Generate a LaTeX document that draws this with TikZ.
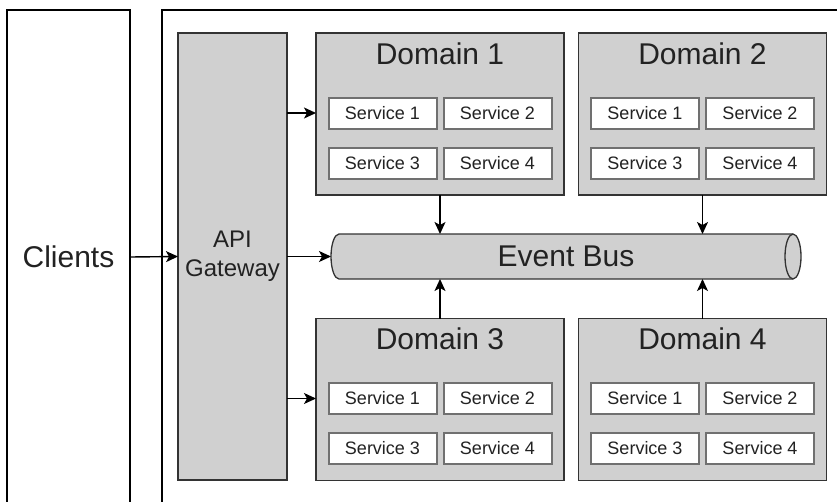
\documentclass[tikz,border=0pt]{standalone}
\usepackage{fontspec}
\setmainfont{Liberation Sans}
\usetikzlibrary{arrows.meta,calc}
\definecolor{boxfill}{RGB}{208,208,208}
\definecolor{inkdark}{RGB}{51,51,51}
\definecolor{svcline}{RGB}{112,112,112}
\definecolor{txt}{RGB}{34,34,34}

% one domain: grey block, title and a 2x2 grid of services
\newcommand\domainblock[4]{%
  \node[block, minimum width=248pt, minimum height=162pt, anchor=north] (#1) at (#2,#3) {};
  \node[big, anchor=base] (#1t) at ($(#1.north)+(0,31)$) {#4};
  \node[svc] (#1a) at ($(#1.north)+(-57.5,80)$) {Service 1};
  \node[svc] (#1b) at ($(#1.north)+(57.5,80)$) {Service 2};
  \node[svc] (#1c) at ($(#1.north)+(-57.5,130)$) {Service 3};
  \node[svc] (#1d) at ($(#1.north)+(57.5,130)$) {Service 4};
}

\begin{document}
\begin{tikzpicture}[x=1pt,y=-1pt,
  frame/.style={draw=black,line width=1.5pt,inner sep=0pt,outer sep=0pt},
  block/.style={draw=inkdark,fill=boxfill,line width=1.3pt,inner sep=0pt,outer sep=0pt},
  svc/.style={draw=svcline,fill=white,line width=2pt,minimum width=108pt,minimum height=31pt,
              inner sep=0pt,font=\fontsize{18}{21}\selectfont,text=txt},
  big/.style={font=\fontsize{30}{36}\selectfont,text=txt},
  arr/.style={draw=black,line width=1.4pt,-{Stealth[length=12pt,width=11pt,inset=3pt]}}]
\useasboundingbox (0,0) rectangle (837,501);
\clip (0,0) rectangle (837,501);

% clients column and the system boundary
\node[frame, minimum width=123pt, minimum height=494pt, big] (clients) at (68.5,257) {Clients};
\draw[frame] (162,10) rectangle (880,540);

% API gateway
\node[block, minimum width=109pt, minimum height=447pt, align=center,
      font=\fontsize{24}{29}\selectfont, text=txt] (gw) at (232.5,256.5) {API\\Gateway};

% domains
\domainblock{d1}{440}{33}{Domain 1}
\domainblock{d2}{702.5}{33}{Domain 2}
\domainblock{d3}{440}{318.5}{Domain 3}
\domainblock{d4}{702.5}{318.5}{Domain 4}

% event bus cylinder
\fill[boxfill] (339,234) -- (793,234)
  .. controls (797.4,234) and (801,244.1) .. (801,256.5)
  .. controls (801,268.9) and (797.4,279) .. (793,279) -- (339,279)
  .. controls (334.6,279) and (331,268.9) .. (331,256.5)
  .. controls (331,244.1) and (334.6,234) .. (339,234) -- cycle;
\draw[inkdark, line width=1.3pt] (339,234) -- (793,234)
  .. controls (797.4,234) and (801,244.1) .. (801,256.5)
  .. controls (801,268.9) and (797.4,279) .. (793,279) -- (339,279)
  .. controls (334.6,279) and (331,268.9) .. (331,256.5)
  .. controls (331,244.1) and (334.6,234) .. (339,234) -- cycle;
\draw[inkdark, line width=1.3pt] (793,234)
  .. controls (788.6,234) and (785,244.1) .. (785,256.5)
  .. controls (785,268.9) and (788.6,279) .. (793,279);
\node[big, minimum width=470pt, minimum height=45pt, inner sep=0pt, outer sep=0pt] (bus) at (566,256.5) {Event Bus};

% connectors
\draw[arr] (clients.east) -- (gw.west);
\draw[arr] (gw.east) -- (bus.west);
\draw[arr] (gw.east |- d1a.west) -- (d1.west |- d1a.west);
\draw[arr] (gw.east |- d3a.west) -- (d3.west |- d3a.west);
\draw[arr] (d1.south) -- (d1.south |- bus.north);
\draw[arr] (d2.south) -- (d2.south |- bus.north);
\draw[arr] (d3.north) -- (d3.north |- bus.south);
\draw[arr] (d4.north) -- (d4.north |- bus.south);
\end{tikzpicture}
\end{document}
